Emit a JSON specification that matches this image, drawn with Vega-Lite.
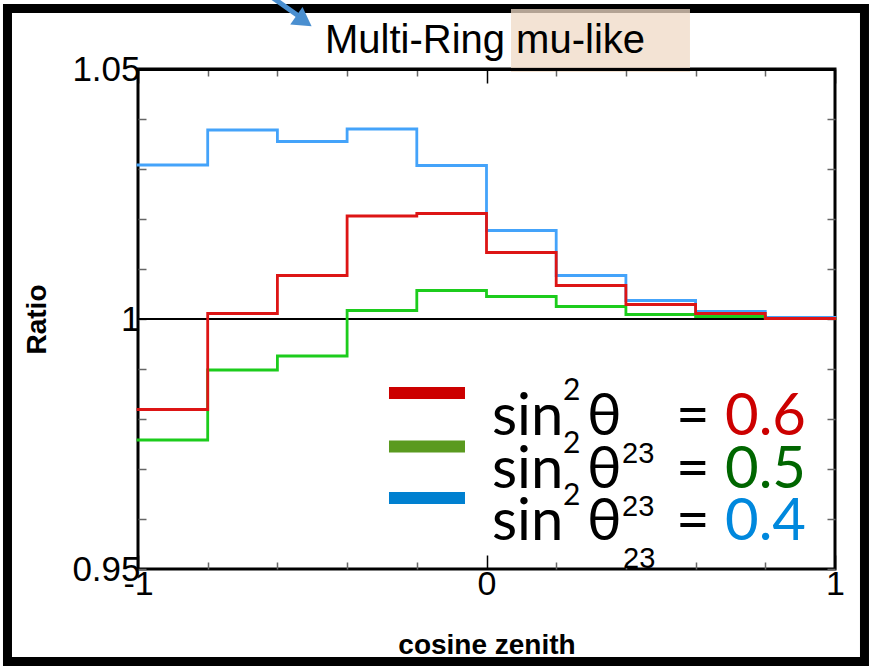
{
  "$schema": "https://vega.github.io/schema/vega-lite/v6.json",
  "width": 697,
  "height": 500,
  "autosize": "none",
  "padding": {"left": 138, "top": 69, "right": 35, "bottom": 97},
  "background": "white",
  "data": {
    "values": [
      {"cosz": -1.0, "ratio": 1.0308, "s2t": "0.4"},
      {"cosz": -0.8, "ratio": 1.0378, "s2t": "0.4"},
      {"cosz": -0.6, "ratio": 1.0355, "s2t": "0.4"},
      {"cosz": -0.4, "ratio": 1.0380, "s2t": "0.4"},
      {"cosz": -0.2, "ratio": 1.0307, "s2t": "0.4"},
      {"cosz": 0.0, "ratio": 1.0177, "s2t": "0.4"},
      {"cosz": 0.2, "ratio": 1.0087, "s2t": "0.4"},
      {"cosz": 0.4, "ratio": 1.0037, "s2t": "0.4"},
      {"cosz": 0.6, "ratio": 1.0015, "s2t": "0.4"},
      {"cosz": 0.8, "ratio": 1.0003, "s2t": "0.4"},
      {"cosz": 1.0, "ratio": 1.0003, "s2t": "0.4"},
      {"cosz": -1.0, "ratio": 0.9758, "s2t": "0.5"},
      {"cosz": -0.8, "ratio": 0.9898, "s2t": "0.5"},
      {"cosz": -0.6, "ratio": 0.9926, "s2t": "0.5"},
      {"cosz": -0.4, "ratio": 1.0017, "s2t": "0.5"},
      {"cosz": -0.2, "ratio": 1.0057, "s2t": "0.5"},
      {"cosz": 0.0, "ratio": 1.0045, "s2t": "0.5"},
      {"cosz": 0.2, "ratio": 1.0025, "s2t": "0.5"},
      {"cosz": 0.4, "ratio": 1.0009, "s2t": "0.5"},
      {"cosz": 0.6, "ratio": 1.0005, "s2t": "0.5"},
      {"cosz": 0.8, "ratio": 1.0001, "s2t": "0.5"},
      {"cosz": 1.0, "ratio": 1.0001, "s2t": "0.5"},
      {"cosz": -1.0, "ratio": 0.9819, "s2t": "0.6"},
      {"cosz": -0.8, "ratio": 1.0011, "s2t": "0.6"},
      {"cosz": -0.6, "ratio": 1.0087, "s2t": "0.6"},
      {"cosz": -0.4, "ratio": 1.0206, "s2t": "0.6"},
      {"cosz": -0.2, "ratio": 1.0211, "s2t": "0.6"},
      {"cosz": 0.0, "ratio": 1.0133, "s2t": "0.6"},
      {"cosz": 0.2, "ratio": 1.0067, "s2t": "0.6"},
      {"cosz": 0.4, "ratio": 1.0029, "s2t": "0.6"},
      {"cosz": 0.6, "ratio": 1.0011, "s2t": "0.6"},
      {"cosz": 0.8, "ratio": 1.0001, "s2t": "0.6"},
      {"cosz": 1.0, "ratio": 1.0001, "s2t": "0.6"}
    ]
  },
  "layer": [
    {
      "data": {"values": [{}]},
      "mark": {"type": "rect", "fillOpacity": 0, "stroke": "black", "strokeWidth": 9, "clip": false},
      "encoding": {
        "x": {"datum": -1.3745, "type": "quantitative", "scale": {"domain": [-1, 1], "nice": false, "zero": false}, "axis": null},
        "x2": {"datum": 1.0846},
        "y": {"datum": 1.0621, "type": "quantitative", "scale": {"domain": [0.95, 1.05], "nice": false, "zero": false}, "axis": null},
        "y2": {"datum": 0.9315}
      }
    },
    {
      "data": {"values": [{}]},
      "mark": {"type": "rect", "fill": "#efd9c6", "opacity": 0.75, "clip": false},
      "encoding": {
        "x": {"datum": 0.0703, "type": "quantitative", "scale": {"domain": [-1, 1], "nice": false, "zero": false}, "axis": null},
        "x2": {"datum": 0.5839},
        "y": {"datum": 1.062, "type": "quantitative", "scale": {"domain": [0.95, 1.05], "nice": false, "zero": false}, "axis": null},
        "y2": {"datum": 1.0494}
      }
    },
    {
      "data": {"values": [{}]},
      "mark": {"type": "text", "text": "Multi-Ring mu-like", "font": "Liberation Sans", "fontSize": 40, "align": "center", "baseline": "alphabetic", "color": "black", "clip": false},
      "encoding": {
        "x": {"datum": -0.0043, "type": "quantitative", "scale": {"domain": [-1, 1], "nice": false, "zero": false}, "axis": null},
        "y": {"datum": 1.0533, "type": "quantitative", "scale": {"domain": [0.95, 1.05], "nice": false, "zero": false}, "axis": null}
      }
    },
    {
      "data": {"values": [{}]},
      "mark": {"type": "rule", "stroke": "#4a8fd0", "strokeWidth": 5, "clip": false},
      "encoding": {
        "x": {"datum": -0.6126, "type": "quantitative", "scale": {"domain": [-1, 1], "nice": false, "zero": false}, "axis": null},
        "x2": {"datum": -0.5351},
        "y": {"datum": 1.0642, "type": "quantitative", "scale": {"domain": [0.95, 1.05], "nice": false, "zero": false}, "axis": null},
        "y2": {"datum": 1.0604}
      }
    },
    {
      "data": {"values": [{}]},
      "mark": {"type": "point", "shape": "triangle-right", "filled": true, "color": "#4a8fd0", "opacity": 1, "size": 460, "angle": 35, "clip": false},
      "encoding": {
        "x": {"datum": -0.5237, "type": "quantitative", "scale": {"domain": [-1, 1], "nice": false, "zero": false}, "axis": null},
        "y": {"datum": 1.0596, "type": "quantitative", "scale": {"domain": [0.95, 1.05], "nice": false, "zero": false}, "axis": null}
      }
    },
    {
      "data": {"values": [{}]},
      "mark": {"type": "rule", "color": "black", "strokeWidth": 2},
      "encoding": {
        "y": {"datum": 1, "type": "quantitative", "scale": {"domain": [0.95, 1.05], "nice": false, "zero": false}, "axis": null}
      }
    },
    {
      "mark": {"type": "line", "interpolate": "step-after", "strokeWidth": 2.8},
      "encoding": {
        "x": {
          "field": "cosz", "type": "quantitative",
          "scale": {"domain": [-1, 1], "nice": false, "zero": false},
          "axis": {
            "orient": "bottom",
            "values": [-1, -0.8, -0.6, -0.4, -0.2, 0, 0.2, 0.4, 0.6, 0.8, 1],
            "labelExpr": "datum.value < -0.99 ? '-1' : datum.value > 0.99 ? '1' : abs(datum.value) < 0.01 ? '0' : ''",
            "domain": false, "grid": false,
            "tickSize": {"condition": {"test": "abs(datum.value) < 0.01 || abs(datum.value) > 0.99", "value": -14}, "value": -7},
            "tickColor": {"condition": {"test": "abs(datum.value) < 0.01 || abs(datum.value) > 0.99", "value": "black"}, "value": "#666666"},
            "tickWidth": 1.5,
            "labelFont": "Liberation Sans", "labelFontSize": 34, "labelColor": "black",
            "labelPadding": 12, "labelFlush": false, "labelOverlap": false,
            "title": "cosine zenith", "titleFont": "Liberation Sans", "titleFontSize": 28, "titleFontWeight": "bold", "titleColor": "black",
            "titlePadding": 23
          }
        },
        "y": {
          "field": "ratio", "type": "quantitative",
          "scale": {"domain": [0.95, 1.05], "nice": false, "zero": false},
          "axis": {
            "orient": "left",
            "values": [0.95, 0.96, 0.97, 0.98, 0.99, 1.0, 1.01, 1.02, 1.03, 1.04, 1.05],
            "labelExpr": "abs(datum.value - 0.95) < 0.001 ? '0.95' : abs(datum.value - 1) < 0.001 ? '1' : abs(datum.value - 1.05) < 0.001 ? '1.05' : ''",
            "domain": false, "grid": false,
            "tickSize": -8, "tickColor": "#666666", "tickWidth": 1.5,
            "labelFont": "Liberation Sans", "labelFontSize": 35, "labelColor": "black",
            "labelPadding": 6, "labelFlush": false, "labelOverlap": false,
            "title": "Ratio", "titleFont": "Liberation Sans", "titleFontSize": 28, "titleFontWeight": "bold", "titleColor": "black",
            "titlePadding": 20
          }
        },
        "color": {
          "field": "s2t", "type": "nominal",
          "scale": {"domain": ["0.4", "0.5", "0.6"], "range": ["#44a3fa", "#1ccc1c", "#dd1515"]},
          "legend": null
        }
      }
    },
    {
      "mark": {"type": "line", "opacity": 0},
      "encoding": {
        "x": {
          "field": "cosz", "type": "quantitative",
          "scale": {"domain": [-1, 1], "nice": false, "zero": false},
          "axis": {
            "orient": "top",
            "values": [-1, -0.8, -0.6, -0.4, -0.2, 0, 0.2, 0.4, 0.6, 0.8, 1],
            "labels": false, "grid": false, "title": null,
            "domain": true, "domainColor": "black", "domainWidth": 3, "zindex": 1,
            "tickSize": {"condition": {"test": "abs(datum.value) < 0.01 || abs(datum.value) > 0.99", "value": -14}, "value": -7},
            "tickColor": {"condition": {"test": "abs(datum.value) < 0.01 || abs(datum.value) > 0.99", "value": "black"}, "value": "#666666"},
            "tickWidth": 1.5
          }
        },
        "y": {
          "field": "ratio", "type": "quantitative",
          "scale": {"domain": [0.95, 1.05], "nice": false, "zero": false},
          "axis": {
            "orient": "right",
            "values": [0.95, 0.96, 0.97, 0.98, 0.99, 1.0, 1.01, 1.02, 1.03, 1.04, 1.05],
            "labels": false, "domain": false, "grid": false, "title": null,
            "tickSize": -8, "tickColor": "#666666", "tickWidth": 1.5
          }
        },
        "detail": {"field": "s2t"}
      }
    },
    {
      "data": {"values": [{}]},
      "mark": {"type": "rule", "stroke": "#cc0000", "strokeWidth": 12},
      "encoding": {
        "x": {"datum": -0.2798, "type": "quantitative", "scale": {"domain": [-1, 1], "nice": false, "zero": false}, "axis": null},
        "x2": {"datum": -0.0617},
        "y": {"datum": 0.9852, "type": "quantitative", "scale": {"domain": [0.95, 1.05], "nice": false, "zero": false}, "axis": null}
      }
    },
    {
      "data": {"values": [{}]},
      "mark": {"type": "rule", "stroke": "#5a9a1f", "strokeWidth": 12},
      "encoding": {
        "x": {"datum": -0.2798, "type": "quantitative", "scale": {"domain": [-1, 1], "nice": false, "zero": false}, "axis": null},
        "x2": {"datum": -0.0617},
        "y": {"datum": 0.9745, "type": "quantitative", "scale": {"domain": [0.95, 1.05], "nice": false, "zero": false}, "axis": null}
      }
    },
    {
      "data": {"values": [{}]},
      "mark": {"type": "rule", "stroke": "#0080d0", "strokeWidth": 12},
      "encoding": {
        "x": {"datum": -0.2798, "type": "quantitative", "scale": {"domain": [-1, 1], "nice": false, "zero": false}, "axis": null},
        "x2": {"datum": -0.0617},
        "y": {"datum": 0.9642, "type": "quantitative", "scale": {"domain": [0.95, 1.05], "nice": false, "zero": false}, "axis": null}
      }
    },
    {
      "data": {"values": [{}]},
      "mark": {"type": "text", "text": ["sin", "sin", "sin"], "font": "Lato", "fontSize": 58, "lineHeight": 52.5, "align": "left", "baseline": "alphabetic", "color": "black", "clip": false},
      "encoding": {
        "x": {"datum": 0.0158, "type": "quantitative", "scale": {"domain": [-1, 1], "nice": false, "zero": false}, "axis": null},
        "y": {"datum": 0.9768, "type": "quantitative", "scale": {"domain": [0.95, 1.05], "nice": false, "zero": false}, "axis": null}
      }
    },
    {
      "data": {"values": [{}]},
      "mark": {"type": "text", "text": ["2", "2", "2"], "font": "Lato", "fontSize": 30, "lineHeight": 52.5, "align": "left", "baseline": "alphabetic", "color": "black", "clip": false},
      "encoding": {
        "x": {"datum": 0.2196, "type": "quantitative", "scale": {"domain": [-1, 1], "nice": false, "zero": false}, "axis": null},
        "y": {"datum": 0.9838, "type": "quantitative", "scale": {"domain": [0.95, 1.05], "nice": false, "zero": false}, "axis": null}
      }
    },
    {
      "data": {"values": [{}]},
      "mark": {"type": "text", "text": ["θ", "θ", "θ"], "font": "Lato", "fontSize": 58, "lineHeight": 52.5, "align": "left", "baseline": "alphabetic", "color": "black", "clip": false},
      "encoding": {
        "x": {"datum": 0.2884, "type": "quantitative", "scale": {"domain": [-1, 1], "nice": false, "zero": false}, "axis": null},
        "y": {"datum": 0.9768, "type": "quantitative", "scale": {"domain": [0.95, 1.05], "nice": false, "zero": false}, "axis": null}
      }
    },
    {
      "data": {"values": [{}]},
      "mark": {"type": "text", "text": ["23", "23"], "font": "Liberation Sans", "fontSize": 29, "lineHeight": 53, "align": "left", "baseline": "alphabetic", "color": "black", "clip": false},
      "encoding": {
        "x": {"datum": 0.3888, "type": "quantitative", "scale": {"domain": [-1, 1], "nice": false, "zero": false}, "axis": null},
        "y": {"datum": 0.9712, "type": "quantitative", "scale": {"domain": [0.95, 1.05], "nice": false, "zero": false}, "axis": null}
      }
    },
    {
      "data": {"values": [{}]},
      "mark": {"type": "text", "text": "23", "font": "Liberation Sans", "fontSize": 29, "align": "left", "baseline": "alphabetic", "color": "black", "clip": false},
      "encoding": {
        "x": {"datum": 0.3917, "type": "quantitative", "scale": {"domain": [-1, 1], "nice": false, "zero": false}, "axis": null},
        "y": {"datum": 0.9502, "type": "quantitative", "scale": {"domain": [0.95, 1.05], "nice": false, "zero": false}, "axis": null}
      }
    },
    {
      "data": {"values": [{}]},
      "mark": {"type": "text", "text": ["=", "=", "="], "font": "Lato", "fontSize": 58, "lineHeight": 52.5, "align": "left", "baseline": "alphabetic", "color": "black", "clip": false},
      "encoding": {
        "x": {"datum": 0.5438, "type": "quantitative", "scale": {"domain": [-1, 1], "nice": false, "zero": false}, "axis": null},
        "y": {"datum": 0.9768, "type": "quantitative", "scale": {"domain": [0.95, 1.05], "nice": false, "zero": false}, "axis": null}
      }
    },
    {
      "data": {"values": [{}]},
      "mark": {"type": "text", "text": "0.6", "font": "Lato", "fontSize": 58, "align": "left", "baseline": "alphabetic", "color": "#cc0000", "clip": false},
      "encoding": {
        "x": {"datum": 0.6844, "type": "quantitative", "scale": {"domain": [-1, 1], "nice": false, "zero": false}, "axis": null},
        "y": {"datum": 0.9768, "type": "quantitative", "scale": {"domain": [0.95, 1.05], "nice": false, "zero": false}, "axis": null}
      }
    },
    {
      "data": {"values": [{}]},
      "mark": {"type": "text", "text": "0.5", "font": "Lato", "fontSize": 58, "align": "left", "baseline": "alphabetic", "color": "#006600", "clip": false},
      "encoding": {
        "x": {"datum": 0.6844, "type": "quantitative", "scale": {"domain": [-1, 1], "nice": false, "zero": false}, "axis": null},
        "y": {"datum": 0.9662, "type": "quantitative", "scale": {"domain": [0.95, 1.05], "nice": false, "zero": false}, "axis": null}
      }
    },
    {
      "data": {"values": [{}]},
      "mark": {"type": "text", "text": "0.4", "font": "Lato", "fontSize": 58, "align": "left", "baseline": "alphabetic", "color": "#0088dd", "clip": false},
      "encoding": {
        "x": {"datum": 0.6844, "type": "quantitative", "scale": {"domain": [-1, 1], "nice": false, "zero": false}, "axis": null},
        "y": {"datum": 0.9558, "type": "quantitative", "scale": {"domain": [0.95, 1.05], "nice": false, "zero": false}, "axis": null}
      }
    }
  ],
  "resolve": {"axis": {"x": "independent", "y": "independent"}},
  "config": {
    "view": {"stroke": "black", "strokeWidth": 3},
    "line": {"strokeCap": "square"}
  }
}
